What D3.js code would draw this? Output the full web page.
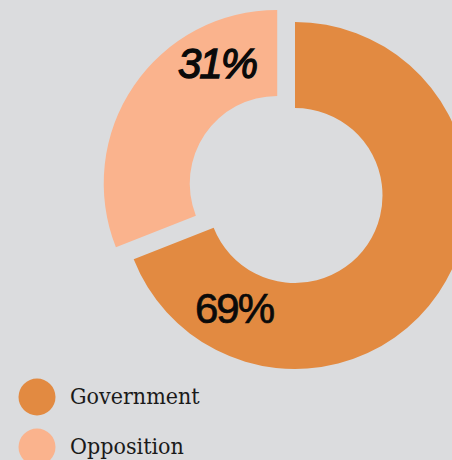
<!DOCTYPE html>
<html>
<head>
<meta charset="utf-8">
<script src="https://cdn.jsdelivr.net/npm/d3@7"></script>
<style>
  html, body { margin: 0; padding: 0; background: #dbdcde; }
  svg { display: block; }
</style>
</head>
<body>
<svg id="chart" width="452" height="460"></svg>
<script>
// Seat share by side
const categories = ["Government", "Opposition"];
const shares = [69, 31];
const labels = ["69%", "31%"];
const colors = ["#e28a41", "#fab38d"];

const svg = d3.select("#chart");
const W = 452, H = 460;
svg.append("rect").attr("width", W).attr("height", H).attr("fill", "#dbdcde");

// Ring geometry
const cx = 295, cy = 195.5;
const outerR = 173.5, innerR = 87.5;
const explode = 21.5; // Opposition slice pulled out along its mid-angle

const pie = d3.pie().sort(null).value(d => d)
  .startAngle(0).endAngle(2 * Math.PI);
const arcs = pie(shares);
const arc = d3.arc().innerRadius(innerR).outerRadius(outerR);

const g = svg.append("g").attr("transform", `translate(${cx},${cy})`);

g.selectAll("path.slice")
  .data(arcs)
  .join("path")
  .attr("class", "slice")
  .attr("d", arc)
  .attr("fill", (d, i) => colors[i])
  .attr("transform", (d, i) => {
    if (i !== 1) return null;
    const mid = (d.startAngle + d.endAngle) / 2;
    return `translate(${explode * Math.sin(mid)},${-explode * Math.cos(mid)})`;
  });

// Percentage labels, placed inside each band
const labelPos = [
  { x: -61, y: 127, style: "normal", stroke: 0.7 },
  { x: -78, y: -117.5, style: "italic", stroke: 1.3 }
];
g.selectAll("text.pct")
  .data(arcs)
  .join("text")
  .attr("class", "pct")
  .attr("x", (d, i) => labelPos[i].x)
  .attr("y", (d, i) => labelPos[i].y)
  .attr("text-anchor", "middle")
  .attr("font-family", "'Liberation Sans', Arial, sans-serif")
  .attr("font-size", 42)
  .attr("font-style", (d, i) => labelPos[i].style)
  .attr("letter-spacing", -2)
  .attr("fill", "#0a0a0a")
  .attr("stroke", "#0a0a0a")
  .attr("stroke-width", (d, i) => labelPos[i].stroke)
  .text((d, i) => labels[i]);

// Legend
const legend = svg.append("g").attr("transform", "translate(37,397)");
const item = legend.selectAll("g.item")
  .data(categories)
  .join("g")
  .attr("class", "item")
  .attr("transform", (d, i) => `translate(0,${i * 50})`);
item.append("circle").attr("r", 18.5).attr("fill", (d, i) => colors[i]);
item.append("text")
  .attr("x", 33)
  .attr("y", 6.5)
  .attr("font-family", "'DejaVu Serif Condensed', 'DejaVu Serif', serif")
  .attr("font-stretch", "condensed")
  .attr("font-size", 23)
  .attr("fill", "#1a1a1a")
  .text(d => d);
</script>
</body>
</html>
